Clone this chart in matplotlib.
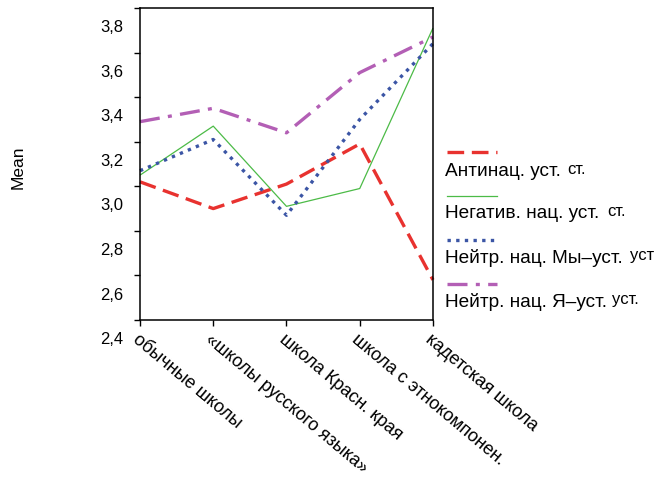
import matplotlib
matplotlib.use("Agg")
import matplotlib.pyplot as plt
import matplotlib.transforms as mtransforms
from matplotlib.lines import Line2D

plt.rcParams['font.family'] = ['Liberation Sans', 'DejaVu Sans']

schools = ["обычные школы", "«школы русского языка»", "школа Красн. края",
           "школа с этнокомпонен.", "кадетская школа"]

antinac = [3.02, 2.90, 3.01, 3.19, 2.58]
negativ = [3.05, 3.27, 2.91, 2.99, 3.71]
neitr_my = [3.07, 3.21, 2.87, 3.30, 3.64]
neitr_ya = [3.29, 3.35, 3.24, 3.51, 3.67]

legend_main = ["Антинац. уст.", "Негатив. нац. уст.", "Нейтр. нац. Мы–уст.", "Нейтр. нац. Я–уст."]
legend_tail = ["ст.", "ст.", "уст", "уст."]

yticks = [2.4, 2.6, 2.8, 3.0, 3.2, 3.4, 3.6, 3.8]
ytick_labels = ["2,4", "2,6", "2,8", "3,0", "3,2", "3,4", "3,6", "3,8"]

styles = [
    dict(color="#e8322f", lw=2.4, dashes=(5, 2.3)),
    dict(color="#4cbb47", lw=0.9, linestyle="-"),
    dict(color="#3b55a5", lw=2.4, dashes=(1.0, 1.6)),
    dict(color="#b35fb5", lw=2.4, dashes=(6, 2.5, 1.2, 2.5)),
]
series = [antinac, negativ, neitr_my, neitr_ya]

fig = plt.figure(figsize=(6.57, 4.79), dpi=100)
ax = fig.add_axes([0.2131, 0.3319, 0.4459, 0.6514])

xs = list(range(len(schools)))
for vals, st in zip(series, styles):
    ax.plot(xs, vals, solid_capstyle="butt", dash_capstyle="butt", clip_on=False, **st)

ax.set_xlim(0, 4)
ax.set_ylim(2.4, 3.8)
ax.set_xticks(xs)
ax.set_xticklabels(schools, rotation=-40, ha="left", va="top",
                   rotation_mode="anchor", fontsize=13)
ax.set_yticks(yticks)
ax.set_yticklabels(ytick_labels, fontsize=12)
ax.tick_params(axis="y", direction="out", length=4, width=1, pad=8)
ax.tick_params(axis="x", direction="out", length=4, width=1, pad=4)
for sp in ax.spines.values():
    sp.set_linewidth(1.1)

# tick labels sit lower than their tick marks in the original
off = mtransforms.ScaledTranslation(0, -13 / 72, fig.dpi_scale_trans)
for lab in ax.get_yticklabels():
    lab.set_transform(lab.get_transform() + off)

fig.text(0.027, 0.651, "Mean", rotation=90, ha="center", va="center", fontsize=12.5)

# legend: line sample above each label
line_y = [152, 196, 240, 284]
text_y = [172, 214, 258, 302]
tail_gap = [6, 8, 7, 5]
for i, st in enumerate(styles):
    ly = 1 - line_y[i] / 479
    fig.add_artist(Line2D([447 / 657, 497 / 657], [ly, ly], transform=fig.transFigure,
                          dash_capstyle="butt", **st))
    ty = 1 - text_y[i] / 479
    t = fig.text(445 / 657, ty, legend_main[i], ha="left", va="center", fontsize=13.7)
    fig.canvas.draw()
    bb = t.get_window_extent()
    fig.text((bb.x1 + tail_gap[i]) / 657, ty + 0.005, legend_tail[i], ha="left", va="center",
             fontsize=12)

fig.savefig("out.png", dpi=100)
